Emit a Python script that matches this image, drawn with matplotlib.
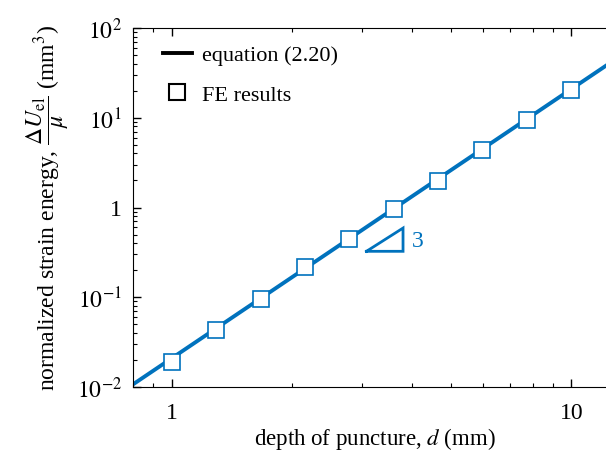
import matplotlib; matplotlib.use('Agg')
import matplotlib.pyplot as plt
from matplotlib.lines import Line2D
import numpy as np

# data
d_fe = [1.0, 1.29, 1.67, 2.15, 2.78, 3.59, 4.64, 5.99, 7.74, 10.0]
u_fe = [0.019, 0.043, 0.096, 0.217, 0.445, 0.96, 1.97, 4.37, 9.45, 20.4]
d_eq = [0.8, 13.0]
u_eq = [0.0107, 46.0]
tri_x = [3.07, 3.79, 3.79, 3.07]
tri_y = [0.325, 0.59, 0.325, 0.325]
yticks = [1e-2, 1e-1, 1, 1e1, 1e2]
ytick_labels = [r'$10^{-2}$', r'$10^{-1}$', '1', r'$10^{1}$', r'$10^{2}$']
xticks = [1, 10]
xtick_labels = ['1', '10']

blue = '#0072BD'
plt.rcParams['font.family'] = ['Liberation Serif', 'DejaVu Serif']
plt.rcParams['mathtext.fontset'] = 'stix'

fig = plt.figure(figsize=(6.06, 4.52), dpi=100)
ax = fig.add_axes([133/606, 64/452, 484/606, 359/452])

ax.plot(d_eq, u_eq, color=blue, lw=2.8, solid_capstyle='butt', zorder=2)
ax.plot(d_fe, u_fe, ls='none', marker='s', ms=11.5, mfc='white', mec=blue,
        mew=1.2, zorder=3)
ax.plot(tri_x, tri_y, color=blue, lw=2.0, solid_joinstyle='miter')
ax.text(3.98, 0.43, '3', color=blue, fontsize=17, va='center', ha='left')

ax.set_xscale('log')
ax.set_yscale('log')
ax.set_xlim(0.8, 13.0)
ax.set_ylim(1e-2, 1e2)
ax.set_xticks(xticks)
ax.set_xticklabels(xtick_labels)
ax.set_yticks(yticks)
ax.set_yticklabels(ytick_labels)
ax.tick_params(which='both', direction='in', top=True, right=True, labelsize=17)
ax.tick_params(which='major', length=6, width=1.0, pad=8)
ax.tick_params(axis='x', which='major', pad=11)
ax.tick_params(which='minor', length=3, width=0.8)
ax.spines['right'].set_visible(False)

ax.set_xlabel(r'depth of puncture, $d$ (mm)', fontsize=16.5, labelpad=1.5)
ax.set_ylabel(r'normalized strain energy, $\dfrac{\Delta U_{\rm el}}{\mu}$ (mm$^3$)',
              fontsize=17, labelpad=4)

handles = [Line2D([], [], color='black', lw=2.8),
           Line2D([], [], ls='none', marker='s', ms=11.5, mfc='white',
                  mec='black', mew=1.5)]
ax.legend(handles, ['equation (2.20)', 'FE results'], loc='upper left',
          frameon=False, fontsize=16, handlelength=1.3, handletextpad=0.45,
          labelspacing=0.85, borderaxespad=0.0, bbox_to_anchor=(0.043, 0.978))

fig.savefig('out.png', dpi=100)
